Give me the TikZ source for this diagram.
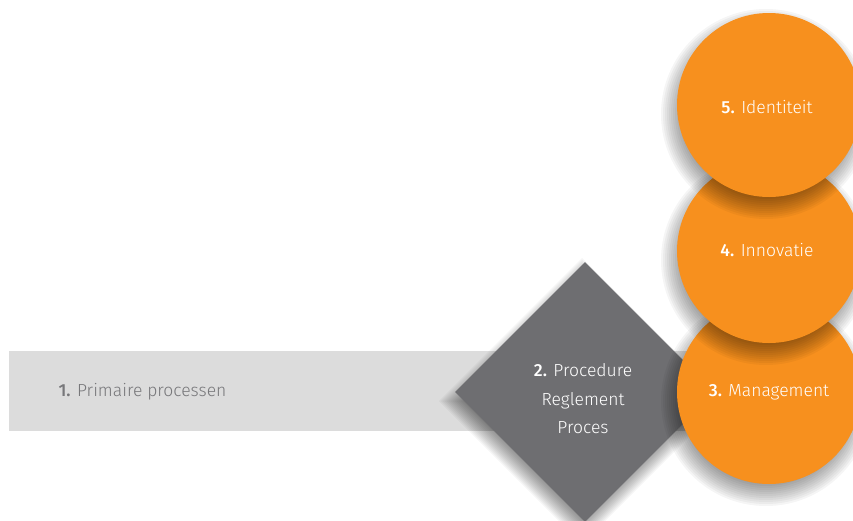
\documentclass[tikz,border=0pt]{standalone}
\usepackage{fontspec}
\setmainfont{Fira Sans Light}[BoldFont={Fira Sans Medium}]
\usetikzlibrary{shapes.geometric}
\definecolor{orangec}{HTML}{F7901E}
\definecolor{diamc}{HTML}{6E6E71}
\definecolor{barc}{HTML}{DCDCDC}
\definecolor{bartext}{HTML}{77777A}
\tikzset{
  lbl/.style={font=\fontsize{17.5}{20}\selectfont},
  circ/.style={circle,fill=orangec,minimum size=184pt,inner sep=0pt,text=white,lbl},
  shlayer/.style={fill=black,opacity=0.04},
}
\newcommand{\circshadow}[2]{%
  \foreach \k in {0,...,13}{\fill[shlayer] (#1-3,#2+9) circle ({92+13-2*\k});}}
\begin{document}
\begin{tikzpicture}[x=1pt,y=-1pt]
\useasboundingbox (0,0) rectangle (853,520);
\clip (0,0) rectangle (853,520);
\node[fill=barc,minimum width=700pt,minimum height=80pt,inner sep=0pt,anchor=west] (bar) at (9,391) {};
\node[anchor=west,text=bartext,lbl] (t1) at (55,392) {\textbf{1.} Primaire processen};
\foreach \k in {0,...,13}{\fill[shlayer] (582,{401-130-13+2*\k}) -- ({582+130+13-2*\k},401) -- (582,{401+130+13-2*\k}) -- ({582-130-13+2*\k},401) -- cycle;}
\node[diamond,aspect=1,fill=diamc,minimum width=260pt,minimum height=260pt,inner sep=0pt] (d2) at (585,392) {};
\node[text=white,align=center,font=\fontsize{17.5}{28.5}\selectfont] (t2) at (583,399) {\textbf{2.} Procedure\\Reglement\\Proces};
\circshadow{769}{392}
\node[circ] (c3) at (769,392) {\textbf{3.} Management};
\circshadow{769}{251}
\node[circ] (c4) at (769,251) {};
\node[text=white,lbl] (t4) at (767,250) {\textbf{4.} Innovatie};
\circshadow{769}{105}
\node[circ] (c5) at (769,105) {};
\node[text=white,lbl] (t5) at (767,107) {\textbf{5.} Identiteit};
\end{tikzpicture}
\end{document}
